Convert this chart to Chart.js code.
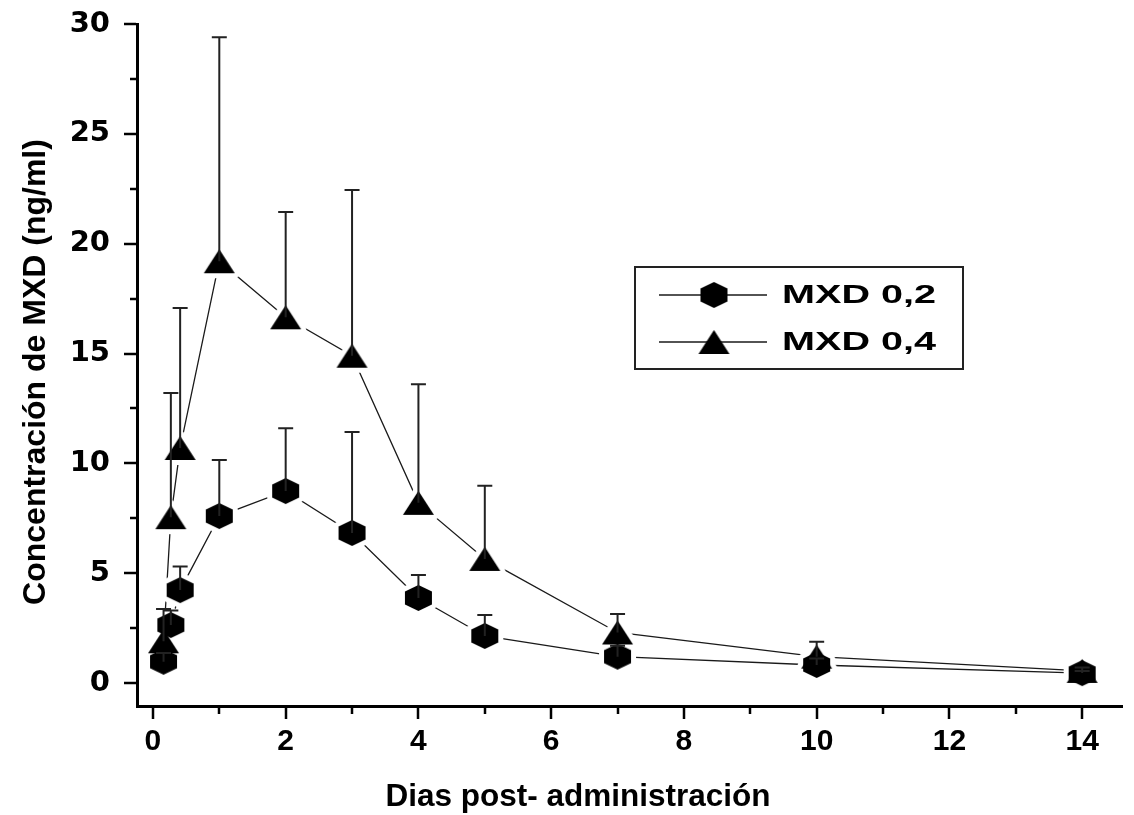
<!DOCTYPE html>
<html>
<head>
<meta charset="utf-8">
<script src="https://cdn.jsdelivr.net/npm/chart.js@4.4.1/dist/chart.umd.min.js"></script>
<style>
html,body{margin:0;padding:0;background:#fff;}
#wrap{width:1134px;height:815px;position:relative;}
</style>
</head>
<body>
<div id="wrap"><canvas id="c" width="1134" height="815"></canvas></div>
<script>
// ---- data ----
const days = [0.16, 0.27, 0.41, 1, 2, 3, 4, 5, 7, 10, 14];
const mxd02 = [0.97, 2.64, 4.23, 7.6, 8.74, 6.83, 3.87, 2.14, 1.2, 0.82, 0.45];
const mxd02Err = [0.4, 0.66, 1.07, 2.55, 2.86, 4.6, 1.05, 0.96, 0.5, 0.3, 0.1];
const mxd04 = [1.9, 7.55, 10.7, 19.2, 16.65, 14.9, 8.2, 5.65, 2.3, 1.2, 0.55];
const mxd04Err = [1.47, 5.65, 6.37, 10.2, 4.79, 7.54, 5.4, 3.33, 0.84, 0.68, 0.15];
const seriesLabels = ['MXD 0,2', 'MXD 0,4'];
const xTicks = [0, 2, 4, 6, 8, 10, 12, 14];
const xMinorTicks = [1, 3, 5, 7, 9, 11, 13];
const yTicks = [0, 5, 10, 15, 20, 25, 30];
const yMinorTicks = [2.5, 7.5, 12.5, 17.5, 22.5, 27.5];
const xTitle = 'Dias post- administración';
const yTitle = 'Concentración de MXD (ng/ml)';

// ---- marker images ----
function hexPath(g, w, h) {
  g.beginPath();
  g.moveTo(0, -h / 2); g.lineTo(w / 2, -h / 4); g.lineTo(w / 2, h / 4);
  g.lineTo(0, h / 2); g.lineTo(-w / 2, h / 4); g.lineTo(-w / 2, -h / 4);
  g.closePath();
}
function triPath(g, w, h) {
  g.beginPath();
  g.moveTo(0, -h / 2); g.lineTo(w / 2, h / 2); g.lineTo(-w / 2, h / 2);
  g.closePath();
}
function makeMarker(pathFn, w, h, color, pad) {
  const c = document.createElement('canvas');
  c.width = Math.ceil(w + 2 * pad + 2); c.height = Math.ceil(h + 2 * pad + 2);
  const g = c.getContext('2d');
  g.translate(c.width / 2, c.height / 2);
  pathFn(g, w, h);
  g.fillStyle = color; g.fill();
  if (pad > 0) { g.lineWidth = 2 * pad; g.lineJoin = 'round'; g.strokeStyle = color; g.stroke(); }
  return c;
}
const HEX_W = 27, HEX_H = 26, TRI_W = 31, TRI_H = 24;
const hexImg = makeMarker(hexPath, HEX_W, HEX_H, '#000', 0);
const triImg = makeMarker(triPath, TRI_W, TRI_H, '#000', 0);
const hexHalo = makeMarker(hexPath, HEX_W, HEX_H, '#fff', 5);
const triHalo = makeMarker(triPath, TRI_W, TRI_H, '#fff', 5);

const pts02 = days.map((d, i) => ({ x: d, y: mxd02[i] }));
const pts04 = days.map((d, i) => ({ x: d, y: mxd04[i] }));

const LINE_COLOR = '#1a1a1a';

// ---- plugins ----
const errorBars = {
  id: 'errorBars',
  afterDatasetsDraw(chart) {
    const { ctx, scales: { x, y } } = chart;
    ctx.save();
    ctx.strokeStyle = '#222';
    ctx.lineWidth = 2;
    [[mxd02, mxd02Err], [mxd04, mxd04Err]].forEach(([vals, errs]) => {
      vals.forEach((v, i) => {
        const px = x.getPixelForValue(days[i]);
        const p0 = y.getPixelForValue(v);
        const p1 = y.getPixelForValue(v + errs[i]);
        ctx.beginPath();
        ctx.moveTo(px, p0); ctx.lineTo(px, p1);
        ctx.moveTo(px - 7.5, p1); ctx.lineTo(px + 7.5, p1);
        ctx.stroke();
      });
    });
    ctx.restore();
  }
};

const axisDecor = {
  id: 'axisDecor',
  afterDraw(chart) {
    const { ctx, scales: { x, y }, chartArea } = chart;
    ctx.save();
    ctx.strokeStyle = '#000';
    ctx.lineWidth = 2.5;
    const left = chartArea.left, bottom = chartArea.bottom;
    yTicks.forEach(v => {
      const p = Math.round(y.getPixelForValue(v));
      ctx.beginPath(); ctx.moveTo(left - 1, p); ctx.lineTo(left - 13, p); ctx.stroke();
    });
    yMinorTicks.forEach(v => {
      const p = Math.round(y.getPixelForValue(v));
      ctx.beginPath(); ctx.moveTo(left - 1, p); ctx.lineTo(left - 7, p); ctx.stroke();
    });
    xTicks.forEach(v => {
      const p = Math.round(x.getPixelForValue(v));
      ctx.beginPath(); ctx.moveTo(p, bottom + 1); ctx.lineTo(p, bottom + 13); ctx.stroke();
    });
    xMinorTicks.forEach(v => {
      const p = Math.round(x.getPixelForValue(v));
      ctx.beginPath(); ctx.moveTo(p, bottom + 1); ctx.lineTo(p, bottom + 8); ctx.stroke();
    });

    // axis titles
    ctx.fillStyle = '#000';
    ctx.font = 'bold 31.5px "Liberation Sans", Arial, sans-serif';
    ctx.textAlign = 'center';
    ctx.textBaseline = 'middle';
    ctx.fillText(xTitle, 578, 797);
    ctx.save();
    ctx.translate(36, 372);
    ctx.rotate(-Math.PI / 2);
    ctx.font = 'bold 32px "Liberation Sans", Arial, sans-serif';
    ctx.fillText(yTitle, 0, 0);
    ctx.restore();

    // legend box
    const bx = 635, by = 267, bw = 328, bh = 102;
    ctx.lineWidth = 2;
    ctx.strokeStyle = '#222';
    ctx.strokeRect(bx, by, bw, bh);
    const rows = [
      { y: 295, img: hexImg, label: seriesLabels[0] },
      { y: 342, img: triImg, label: seriesLabels[1] }
    ];
    rows.forEach(r => {
      ctx.strokeStyle = LINE_COLOR;
      ctx.lineWidth = 1.4;
      ctx.beginPath(); ctx.moveTo(659, r.y); ctx.lineTo(767, r.y); ctx.stroke();
      ctx.drawImage(r.img, 714 - r.img.width / 2, r.y - r.img.height / 2);
      ctx.save();
      ctx.font = 'bold 26px "Liberation Sans", Arial, sans-serif';
      ctx.textAlign = 'left';
      ctx.textBaseline = 'middle';
      const w = ctx.measureText(r.label).width;
      const sx = 154 / w;
      ctx.translate(782, r.y + 1);
      ctx.scale(sx, 1);
      ctx.fillStyle = '#000';
      ctx.fillText(r.label, 0, 0);
      ctx.restore();
    });
    ctx.restore();
  }
};

const ctx = document.getElementById('c').getContext('2d');
new Chart(ctx, {
  type: 'line',
  data: {
    datasets: [
      { label: seriesLabels[0] + ' line', data: pts02, showLine: true, borderColor: LINE_COLOR, borderWidth: 1.3, pointRadius: 0, pointHoverRadius: 0, fill: false, tension: 0, order: 10 },
      { label: seriesLabels[1] + ' line', data: pts04, showLine: true, borderColor: LINE_COLOR, borderWidth: 1.3, pointRadius: 0, pointHoverRadius: 0, fill: false, tension: 0, order: 10 },
      { label: seriesLabels[0] + ' halo', data: pts02, showLine: false, pointStyle: hexHalo, pointRadius: 10, order: 5 },
      { label: seriesLabels[1] + ' halo', data: pts04, showLine: false, pointStyle: triHalo, pointRadius: 10, order: 5 },
      { label: seriesLabels[0], data: pts02, showLine: false, pointStyle: hexImg, pointRadius: 10, order: 1 },
      { label: seriesLabels[1], data: pts04, showLine: false, pointStyle: triImg, pointRadius: 10, order: 0 }
    ]
  },
  options: {
    responsive: false,
    animation: false,
    devicePixelRatio: 1,
    layout: { padding: { top: 24, right: 12, left: 0, bottom: 0 } },
    plugins: { legend: { display: false }, tooltip: { enabled: false } },
    events: [],
    scales: {
      x: {
        type: 'linear',
        min: -0.24,
        max: 14.6,
        afterBuildTicks: s => { s.ticks = xTicks.map(v => ({ value: v })); },
        afterFit: s => { s.height = 109; s.paddingLeft = 0; s.paddingRight = 0; },
        grid: { display: false, drawTicks: false },
        border: { display: true, width: 3, color: '#000' },
        ticks: {
          autoSkip: false,
          maxRotation: 0,
          padding: 18,
          color: '#000',
          font: { family: '"Liberation Sans", Arial, sans-serif', weight: 'bold', size: 30 },
          callback: v => String(v)
        }
      },
      y: {
        type: 'linear',
        min: -1.047,
        max: 30,
        afterBuildTicks: s => { s.ticks = yTicks.map(v => ({ value: v })); },
        afterFit: s => { s.width = 137; s.paddingTop = 0; s.paddingBottom = 0; },
        grid: { display: false, drawTicks: false },
        border: { display: true, width: 3, color: '#000' },
        ticks: {
          autoSkip: false,
          padding: 27,
          color: '#000',
          font: { family: '"DejaVu Sans", sans-serif', weight: 'bold', size: 29 },
          callback: v => String(v)
        }
      }
    }
  },
  plugins: [errorBars, axisDecor]
});
</script>
</body>
</html>
